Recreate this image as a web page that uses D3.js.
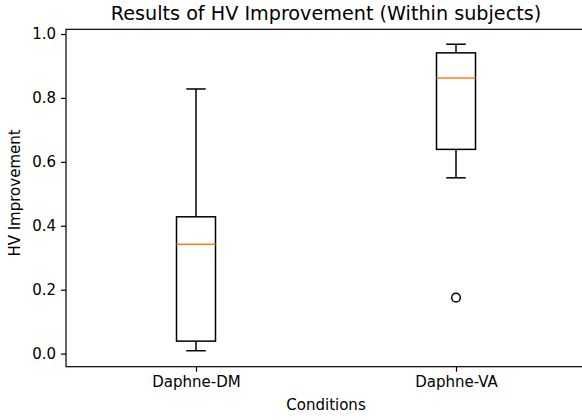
<!DOCTYPE html>
<html>
<head>
<meta charset="utf-8">
<script src="https://cdn.jsdelivr.net/npm/d3@7"></script>
<style>
  body { margin: 0; background: #fff; }
  text { font-family: "DejaVu Sans", sans-serif; }
</style>
</head>
<body>
<script>
let categories = ["Daphne-DM", "Daphne-VA"];
let lowerWhisker = [0.009, 0.550];
let q1 = [0.039, 0.639];
let median = [0.342, 0.862];
let q3 = [0.428, 0.941];
let upperWhisker = [0.828, 0.968];
let outliers = [[], [0.175]];
let yTicks = [0.0, 0.2, 0.4, 0.6, 0.8, 1.0];

let width = 582;
let height = 420;
let mLeft = 66, mRight = 586, mTop = 29.3, mBottom = 366.7;

let svg = d3.select("body").append("svg").attr("width", width).attr("height", height);

let x = d3.scaleLinear().domain([0.5, 2.5]).range([mLeft, mRight]);
let y = d3.scaleLinear().domain([-0.041, 1.0147]).range([mBottom, mTop]);

let boxW = 0.15 * (x(2) - x(1));
let capW = boxW / 2;

let data = categories.map((c, i) => ({
  name: c, pos: i + 1,
  lo: lowerWhisker[i], q1: q1[i], med: median[i], q3: q3[i], hi: upperWhisker[i],
  fliers: outliers[i]
}));

let g = svg.selectAll("g.box").data(data).enter().append("g").attr("class", "box");

// whiskers
g.append("line")
  .attr("x1", d => x(d.pos)).attr("x2", d => x(d.pos))
  .attr("y1", d => y(d.lo)).attr("y2", d => y(d.q1))
  .attr("stroke", "#000").attr("stroke-width", 1.5);
g.append("line")
  .attr("x1", d => x(d.pos)).attr("x2", d => x(d.pos))
  .attr("y1", d => y(d.q3)).attr("y2", d => y(d.hi))
  .attr("stroke", "#000").attr("stroke-width", 1.5);

// caps
g.append("line")
  .attr("x1", d => x(d.pos) - capW / 2).attr("x2", d => x(d.pos) + capW / 2)
  .attr("y1", d => y(d.lo)).attr("y2", d => y(d.lo))
  .attr("stroke", "#000").attr("stroke-width", 1.5);
g.append("line")
  .attr("x1", d => x(d.pos) - capW / 2).attr("x2", d => x(d.pos) + capW / 2)
  .attr("y1", d => y(d.hi)).attr("y2", d => y(d.hi))
  .attr("stroke", "#000").attr("stroke-width", 1.5);

// box
g.append("rect")
  .attr("x", d => x(d.pos) - boxW / 2)
  .attr("y", d => y(d.q3))
  .attr("width", boxW)
  .attr("height", d => y(d.q1) - y(d.q3))
  .attr("fill", "none")
  .attr("stroke", "#000").attr("stroke-width", 1.5);

// median
g.append("line")
  .attr("x1", d => x(d.pos) - boxW / 2).attr("x2", d => x(d.pos) + boxW / 2)
  .attr("y1", d => y(d.med)).attr("y2", d => y(d.med))
  .attr("stroke", "#ff7f0e").attr("stroke-width", 1.5);

// fliers
g.selectAll("circle").data(d => d.fliers.map(v => ({pos: d.pos, v: v})))
  .enter().append("circle")
  .attr("cx", d => x(d.pos)).attr("cy", d => y(d.v))
  .attr("r", 4.3)
  .attr("fill", "none").attr("stroke", "#000").attr("stroke-width", 1.5);

// axes
let yAxis = d3.axisLeft(y).tickValues(yTicks).tickFormat(d3.format(".1f")).tickSize(5).tickPadding(5);
let xAxis = d3.axisBottom(x).tickValues([1, 2]).tickFormat((d, i) => categories[i]).tickSize(5).tickPadding(5);

let ya = svg.append("g").attr("transform", `translate(${mLeft},0)`).call(yAxis);
let xa = svg.append("g").attr("transform", `translate(0,${mBottom})`).call(xAxis);
[ya, xa].forEach(a => {
  a.select(".domain").remove();
  a.selectAll("line").attr("stroke", "#000").attr("stroke-width", 1.2);
  a.selectAll("text").attr("fill", "#000").style("font-size", "15px").style("font-family", "DejaVu Sans");
});

// spines
svg.append("rect")
  .attr("x", mLeft).attr("y", mTop)
  .attr("width", mRight - mLeft).attr("height", mBottom - mTop)
  .attr("fill", "none").attr("stroke", "#000").attr("stroke-width", 1.2);

// labels
svg.append("text")
  .attr("x", (mLeft + mRight) / 2).attr("y", 20)
  .attr("text-anchor", "middle")
  .style("font-size", "19.2px")
  .text("Results of HV Improvement (Within subjects)");

svg.append("text")
  .attr("x", (mLeft + mRight) / 2).attr("y", 410)
  .attr("text-anchor", "middle")
  .style("font-size", "15px")
  .text("Conditions");

svg.append("text")
  .attr("transform", `translate(20,193) rotate(-90)`)
  .attr("text-anchor", "middle")
  .style("font-size", "15px")
  .text("HV Improvement");
</script>
</body>
</html>
